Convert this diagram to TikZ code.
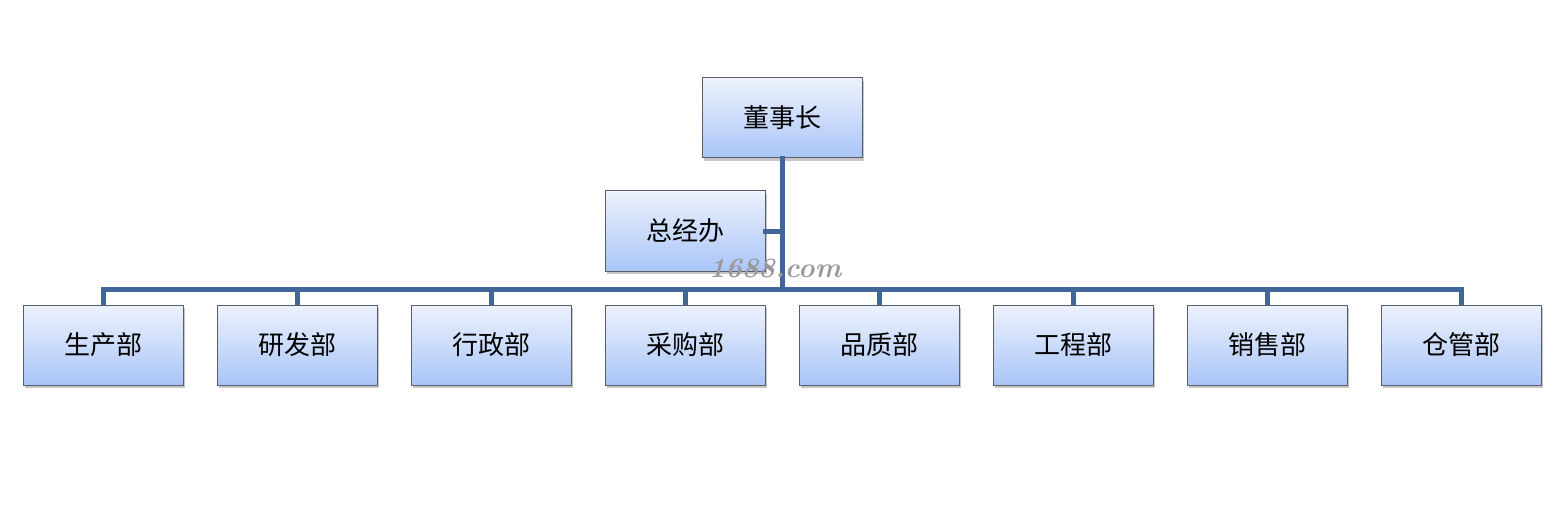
\documentclass[tikz,border=0pt]{standalone}
\usepackage{fontspec}
\newfontfamily\cjk{Noto Sans CJK SC}
\usetikzlibrary{shadows}
\definecolor{linecol}{HTML}{41679A}
\definecolor{boxtop}{HTML}{EDF2FD}
\definecolor{boxbot}{HTML}{A9C5F7}
\definecolor{boxedge}{HTML}{5A5E68}
\tikzset{
  orgbox/.style={draw=boxedge, line width=1pt, top color=boxtop, bottom color=boxbot,
    minimum width=160pt, minimum height=80pt, inner sep=0pt,
    font=\cjk\fontsize{26}{30}\selectfont,
    drop shadow={shadow xshift=2pt, shadow yshift=-3pt, opacity=0.45}},
  conn/.style={draw=linecol, line width=5pt, line cap=rect, line join=miter}
}
\begin{document}
\begin{tikzpicture}[x=1pt,y=-1pt]
\useasboundingbox (0,0) rectangle (1551,532);
\coordinate (bus) at (782,289);
\coordinate (busL) at (103,289);
\coordinate (busR) at (1461,289);
\coordinate (gj) at (782,231);
\node[orgbox] (top) at (782,118) {董事长};
\node[orgbox] (gm) at (685,231) {总经办};
\foreach \n/\t [count=\i from 0] in {b1/生产部,b2/研发部,b3/行政部,b4/采购部,b5/品质部,b6/工程部,b7/销售部,b8/仓管部}{
  \node[orgbox] (\n) at ({103+194*\i},345) {\t};
}
\draw[conn] (top.south) -- (bus);
\draw[conn] (gm.east) -- (gj);
\draw[conn] (busL) -- (busR);
\foreach \n in {b1,b2,b3,b4,b5,b6,b7,b8}{
  \draw[conn, line cap=butt] (\n.north |- bus) -- (\n.north);
}
\node[text=gray!80, font=\bfseries\itshape\fontsize{28}{30}\selectfont, inner sep=0pt] (wm) at (775,268) {1688.com};
\end{tikzpicture}
\end{document}
